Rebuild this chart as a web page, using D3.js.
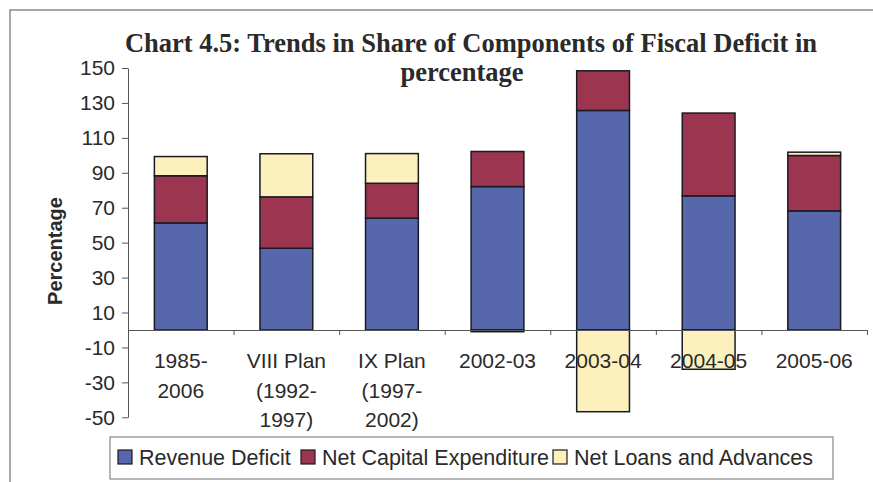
<!DOCTYPE html>
<html lang="en">

<head>
    <meta charset="UTF-8">
    <title>Chart 4.5</title>
    <script src="https://d3js.org/d3.v7.min.js"></script>
    <style>
        body { margin: 0; background: #fff; }
        text { font-family: "Liberation Sans", Arial, sans-serif; fill: #2a2a2a; }
    </style>
</head>

<body>
    <div class="chart"></div>

    <script>
        const w = 873;
        const h = 482;

        // data
        const categories = ["1985-\n2006", "VIII Plan\n(1992-\n1997)", "IX Plan\n(1997-\n2002)",
            "2002-03", "2003-04", "2004-05", "2005-06"];
        const revenueDeficit = [61.3, 46.8, 64.0, 82.1, 125.7, 76.8, 68.2];
        const netCapitalExp = [27.0, 29.4, 20.0, 20.1, 22.7, 47.4, 31.7];
        const netLoans = [11.0, 24.7, 17.0, -1.0, -46.8, -22.5, 1.9];
        const seriesNames = ["Revenue Deficit", "Net Capital Expenditure", "Net Loans and Advances"];
        const colors = ["#5667ab", "#9c3550", "#fcf1bd"];
        const yTicks = [-50, -30, -10, 10, 30, 50, 70, 90, 110, 130, 150];

        const table = categories.map((c, i) => ({
            cat: c,
            "Revenue Deficit": revenueDeficit[i],
            "Net Capital Expenditure": netCapitalExp[i],
            "Net Loans and Advances": netLoans[i]
        }));

        const x0 = 128, x1 = 867;

        const xScale = d3.scaleBand()
            .domain(categories)
            .range([x0, x1])
            .paddingInner(0.5)
            .paddingOuter(0.25);

        const yScale = d3.scaleLinear()
            .domain([-50, 150])
            .range([417.3, 68]);

        const svg = d3.select(".chart")
            .append("svg")
            .attr("width", w)
            .attr("height", h);

        // outer frame (only top and left show in the picture)
        svg.append("path")
            .attr("d", "M10,490 L10,10 L880,10")
            .attr("fill", "none")
            .attr("stroke", "#8a8a8a")
            .attr("stroke-width", 1.5);

        // title
        svg.append("text")
            .attr("x", 471).attr("y", 52)
            .attr("text-anchor", "middle")
            .style("font-family", "'Liberation Serif', 'Times New Roman', serif")
            .style("font-weight", "bold")
            .style("font-size", "26.5px")
            .text("Chart 4.5: Trends in Share of Components of Fiscal Deficit in");
        svg.append("text")
            .attr("x", 462).attr("y", 81)
            .attr("text-anchor", "middle")
            .style("font-family", "'Liberation Serif', 'Times New Roman', serif")
            .style("font-weight", "bold")
            .style("font-size", "26.5px")
            .text("percentage");

        // stacked bars
        const stack = d3.stack()
            .keys(seriesNames)
            .offset(d3.stackOffsetDiverging);
        const layers = stack(table);

        svg.append("g")
            .selectAll("g")
            .data(layers)
            .join("g")
            .attr("fill", (d, i) => colors[i])
            .selectAll("rect")
            .data(d => d)
            .join("rect")
            .attr("x", d => xScale(d.data.cat))
            .attr("y", d => yScale(Math.max(d[0], d[1])))
            .attr("width", xScale.bandwidth())
            .attr("height", d => Math.abs(yScale(d[0]) - yScale(d[1])))
            .attr("stroke", "#1a1a22")
            .attr("stroke-width", 1.5);

        // y axis, plain hyphen for negatives like the original
        const yAxis = svg.append("g")
            .attr("transform", `translate(${x0},0)`)
            .call(d3.axisLeft(yScale).tickValues(yTicks).tickSize(6).tickSizeOuter(0).tickPadding(7)
                .tickFormat(d => String(d)));
        yAxis.select(".domain").attr("stroke", "#555");
        yAxis.selectAll(".tick line").attr("stroke", "#555");
        yAxis.selectAll("text")
            .style("font-size", "21px")
            .attr("fill", "#2a2a2a");

        // x axis: ticks between categories
        const xb = d3.scaleLinear().domain([0, categories.length]).range([x0, x1]);
        const xAxis = svg.append("g")
            .attr("transform", `translate(0,${yScale(0)})`)
            .call(d3.axisBottom(xb).tickValues(d3.range(1, categories.length + 1))
                .tickSize(5).tickSizeOuter(0).tickFormat(""));
        xAxis.select(".domain").attr("stroke", "#555").attr("stroke-width", 1.2);
        xAxis.selectAll(".tick line").attr("stroke", "#555");

        // category labels
        const labels = svg.append("g")
            .selectAll("text")
            .data(categories)
            .join("text")
            .attr("text-anchor", "middle")
            .style("font-size", "21px")
            .attr("transform", d => `translate(${xScale(d) + xScale.bandwidth() / 2},368)`);
        labels.selectAll("tspan")
            .data(d => d.split("\n"))
            .join("tspan")
            .attr("x", 0)
            .attr("y", (d, i) => i * 29.5)
            .text(d => d);

        // y axis title
        svg.append("text")
            .attr("transform", "translate(62,251) rotate(-90)")
            .attr("text-anchor", "middle")
            .style("font-size", "20px")
            .style("font-weight", "bold")
            .text("Percentage");

        // legend
        const legend = svg.append("g");
        legend.append("rect")
            .attr("x", 110).attr("y", 437)
            .attr("width", 723).attr("height", 42)
            .attr("fill", "#fff")
            .attr("stroke", "#888")
            .attr("stroke-width", 1.2);
        const legendX = [118, 301, 553];
        const items = legend.selectAll(".item")
            .data(seriesNames)
            .join("g")
            .attr("class", "item")
            .attr("transform", (d, i) => `translate(${legendX[i]},450)`);
        items.append("rect")
            .attr("width", 14).attr("height", 14)
            .attr("fill", (d, i) => colors[i])
            .attr("stroke", "#1a1a22")
            .attr("stroke-width", 1.2);
        items.append("text")
            .attr("x", 21).attr("y", 15)
            .style("font-size", "21.5px")
            .text(d => d);
    </script>
</body>

</html>
